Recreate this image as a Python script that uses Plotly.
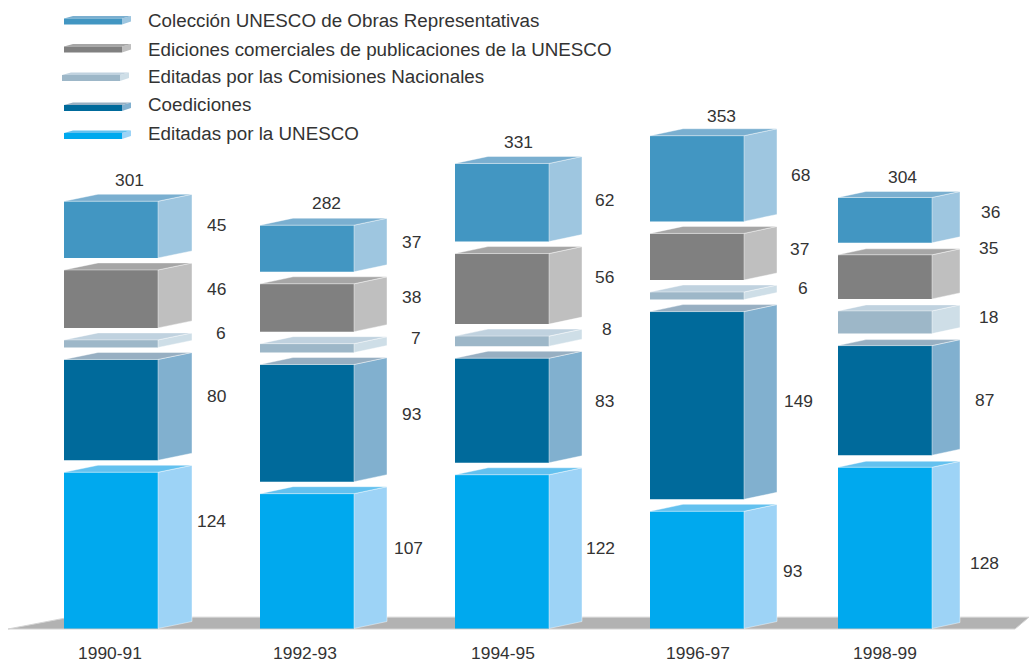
import plotly.graph_objects as go

periods = ["1990-91", "1992-93", "1994-95", "1996-97", "1998-99"]
totals = [301, 282, 331, 353, 304]
editadas_unesco = [124, 107, 122, 93, 128]
coediciones = [80, 93, 83, 149, 87]
comisiones = [6, 7, 8, 6, 18]
comerciales = [46, 38, 56, 37, 35]
coleccion = [45, 37, 62, 68, 36]

series_names = ["Editadas por la UNESCO", "Coediciones", "Editadas por las Comisiones Nacionales",
                "Ediciones comerciales de publicaciones de la UNESCO", "Colección UNESCO de Obras Representativas"]
series_values = [editadas_unesco, coediciones, comisiones, comerciales, coleccion]

# styling / layout (x axis is in pixel-like units)
W, H = 1029, 661
BOTTOM_MARGIN = 30
ZERO_PX = 628.5
SCALE = 1.26             # px per unit
GAP = 12 / SCALE         # visual gap between stacked blocks
BAR_W = 94
bar_centers = [111, 307, 502, 697, 885]
tick_centers = [110, 305, 503, 698, 885]
depth_x = [34, 33, 33, 33, 28]
depth_y = [7, 7, 7, 7, 6]
front = ["#00A9EE", "#006A9B", "#9DB7C8", "#808080", "#4296C2"]
side = ["#9DD3F6", "#81B0CF", "#CEDEE7", "#BFBFBF", "#9EC6E0"]
top = ["#63C1EF", "#97AFC2", "#C0D2DF", "#A6A6A6", "#7AAFD0"]
TEXT = "#333333"
FONT = "Liberation Sans"
NUM_SIZE = 17.4
LEG_SIZE = 18.8

# label nudges relative to block centre, px (per period, bottom to top)
nudge_x = [[53, 58, 63, 58, 58], [54, 57, 62, 57, 57], [51, 55, 58, 55, 55],
           [48, 54, 59, 55, 56], [52, 52, 56, 56, 58]]
nudge_y = [[-29.5, -13.5, -11, -10, -4.5], [-13, -9.5, -10.5, -11, -6.5], [-3.5, -9, -12.5, -11.5, -3],
           [1, -4.5, -8, -7.5, -4], [15, -0.5, -5.5, -29, -8]]
total_dx = [18, 19, 16, 24, 17]
total_dy = [21, 22, 21, 20, 20]

fig = go.Figure()


def poly(xs, ys, color):
    fig.add_trace(go.Scatter(x=xs, y=ys, mode="lines", fill="toself", fillcolor=color,
                             line=dict(color="rgba(255,255,255,0.7)", width=0.6),
                             hoverinfo="skip", showlegend=False))


annotations = []
for i, c in enumerate(bar_centers):
    base = 0
    x0, x1 = c - BAR_W / 2, c + BAR_W / 2
    DX, DY = depth_x[i], depth_y[i] / SCALE
    for s, vals in enumerate(series_values):
        v = vals[i]
        t = base + v
        poly([x1, x1 + DX, x1 + DX, x1, x1], [base, base + DY, t + DY, t, base], side[s])
        poly([x0, x0 + DX, x1 + DX, x1, x0], [t, t + DY, t + DY, t, t], top[s])
        fig.add_trace(go.Bar(x=[c], y=[v], base=[base], width=BAR_W, marker=dict(color=front[s], line=dict(width=0)),
                             name=series_names[s], showlegend=False, hoverinfo="skip"))
        annotations.append(dict(x=c, y=base + v / 2, xref="x", yref="y", text=str(v), showarrow=False,
                                xshift=nudge_x[i][s] + BAR_W / 2, yshift=-nudge_y[i][s],
                                font=dict(family=FONT, size=NUM_SIZE, color=TEXT)))
        base = t + GAP
    annotations.append(dict(x=c, y=base - GAP, xref="x", yref="y", text=str(totals[i]), showarrow=False,
                            xshift=total_dx[i], yshift=total_dy[i],
                            font=dict(family=FONT, size=NUM_SIZE, color=TEXT)))

plot_h = H - BOTTOM_MARGIN
fx = lambda p: p / W
fy = lambda p: 1 - p / plot_h

# floor, behind everything
shapes = [dict(type="path", xref="x", yref="y", layer="below",
               path=f"M 8,-0.4 L 70,9 L {W},9 L 1015,-0.4 Z",
               fillcolor="#B2B2B2", line=dict(color="#D4D4D4", width=1))]

# legend
legend_y = [133, 105, 75, 46.5, 18.5]
legend_x = [64, 64, 62, 64, 64]
legend_text_y = [133, 105, 77, 49, 21]
for s, name in enumerate(series_names):
    py, px = legend_y[s], legend_x[s]
    for pts, col in [
        ([(px + 58, py), (px + 67, py - 2.5), (px + 67, py + 3), (px + 58, py + 6)], side[s]),
        ([(px, py), (px + 9, py - 2.5), (px + 67, py - 2.5), (px + 58, py)], top[s]),
        ([(px, py), (px + 58, py), (px + 58, py + 6), (px, py + 6)], front[s]),
    ]:
        path = "M " + " L ".join(f"{fx(a):.5f},{fy(b):.5f}" for a, b in pts) + " Z"
        shapes.append(dict(type="path", xref="paper", yref="paper", path=path, fillcolor=col, line=dict(width=0)))
    annotations.append(dict(x=fx(146), y=fy(legend_text_y[s]), xref="paper", yref="paper", text=name,
                            xanchor="left", yanchor="middle", showarrow=False,
                            font=dict(family=FONT, size=LEG_SIZE, color=TEXT)))

fig.update_layout(
    width=W, height=H, margin=dict(l=0, r=0, t=0, b=BOTTOM_MARGIN),
    paper_bgcolor="white", plot_bgcolor="rgba(0,0,0,0)", barmode="overlay", showlegend=False,
    annotations=annotations, shapes=shapes,
    xaxis=dict(range=[0, W], tickmode="array", tickvals=tick_centers, ticktext=periods, showgrid=False,
               zeroline=False, showline=False, ticks="outside", ticklen=6, tickcolor="rgba(0,0,0,0)",
               tickfont=dict(family=FONT, size=NUM_SIZE, color=TEXT), automargin=False),
    yaxis=dict(range=[(ZERO_PX - plot_h) / SCALE, ZERO_PX / SCALE], visible=False, automargin=False),
)
fig.write_html("out.html", config=dict(displayModeBar=False),
               post_script="document.body.style.margin='0';")
